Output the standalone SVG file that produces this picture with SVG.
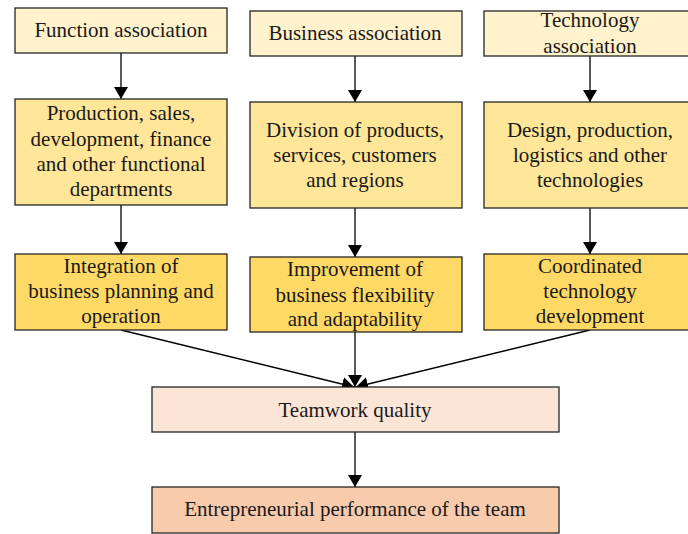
<svg xmlns="http://www.w3.org/2000/svg" width="688" height="534" viewBox="0 0 688 534">
  <style>
    .box { stroke: #262626; stroke-width: 1.3; }
    .lv1 { fill: #FFF2CC; }
    .lv2 { fill: #FFE699; }
    .lv3 { fill: #FFD966; }
    .tq { fill: #FBE5D6; }
    .ep { fill: #F8CBAD; }
    .lbl { font-family: "Liberation Serif", serif; font-size: 21px; fill: #1a1a1a; text-anchor: middle; }
    .edge { stroke: #000; stroke-width: 1.3; fill: none; marker-end: url(#arrow); }
  </style>
  <defs>
    <marker id="arrow" viewBox="0 0 12 14" refX="12" refY="7" markerWidth="12" markerHeight="14" markerUnits="userSpaceOnUse" orient="auto">
      <path d="M0,0 L12,7 L0,14 Z" fill="#000"/>
    </marker>
  </defs>
  <rect width="688" height="534" fill="#fff"/>

  <g id="connectors">
    <line class="edge" x1="121" y1="53" x2="121" y2="99"/>
    <line class="edge" x1="355" y1="56" x2="355" y2="102"/>
    <line class="edge" x1="590" y1="56" x2="590" y2="102"/>
    <line class="edge" x1="121" y1="205" x2="121" y2="254"/>
    <line class="edge" x1="355" y1="208" x2="355" y2="257"/>
    <line class="edge" x1="590" y1="208" x2="590" y2="254"/>
    <line class="edge" x1="121" y1="330" x2="354" y2="387"/>
    <line class="edge" x1="355" y1="332" x2="355" y2="387"/>
    <line class="edge" x1="590" y1="330" x2="356" y2="387"/>
    <line class="edge" x1="355" y1="432" x2="355" y2="487"/>
  </g>

  <g id="function-association">
    <rect class="box lv1" x="15" y="8" width="212" height="45"/>
    <text class="lbl" x="121" y="37">Function association</text>
  </g>
  <g id="business-association">
    <rect class="box lv1" x="250" y="11" width="212" height="45"/>
    <text class="lbl" x="355" y="40">Business association</text>
  </g>
  <g id="technology-association">
    <rect class="box lv1" x="484" y="11" width="212" height="45"/>
    <text class="lbl" x="590" y="27">Technology</text>
    <text class="lbl" x="590" y="53">association</text>
  </g>

  <g id="functional-departments">
    <rect class="box lv2" x="15" y="99" width="212" height="106"/>
    <text class="lbl" x="121" y="120">Production, sales,</text>
    <text class="lbl" x="121" y="146">development, finance</text>
    <text class="lbl" x="121" y="171">and other functional</text>
    <text class="lbl" x="121" y="196">departments</text>
  </g>
  <g id="division">
    <rect class="box lv2" x="250" y="102" width="212" height="106"/>
    <text class="lbl" x="355" y="137">Division of products,</text>
    <text class="lbl" x="355" y="162">services, customers</text>
    <text class="lbl" x="355" y="187">and regions</text>
  </g>
  <g id="technologies">
    <rect class="box lv2" x="484" y="102" width="212" height="106"/>
    <text class="lbl" x="590" y="137">Design, production,</text>
    <text class="lbl" x="590" y="162">logistics and other</text>
    <text class="lbl" x="590" y="187">technologies</text>
  </g>

  <g id="integration">
    <rect class="box lv3" x="15" y="254" width="212" height="76"/>
    <text class="lbl" x="121" y="273">Integration of</text>
    <text class="lbl" x="121" y="298">business planning and</text>
    <text class="lbl" x="121" y="323">operation</text>
  </g>
  <g id="flexibility">
    <rect class="box lv3" x="250" y="257" width="212" height="75"/>
    <text class="lbl" x="355" y="276">Improvement of</text>
    <text class="lbl" x="355" y="302">business flexibility</text>
    <text class="lbl" x="355" y="326">and adaptability</text>
  </g>
  <g id="coordinated">
    <rect class="box lv3" x="484" y="254" width="212" height="76"/>
    <text class="lbl" x="590" y="273">Coordinated</text>
    <text class="lbl" x="590" y="298">technology</text>
    <text class="lbl" x="590" y="323">development</text>
  </g>

  <g id="teamwork-quality">
    <rect class="box tq" x="152" y="387" width="407" height="45"/>
    <text class="lbl" x="355" y="417">Teamwork quality</text>
  </g>
  <g id="entrepreneurial-performance">
    <rect class="box ep" x="152" y="487" width="407" height="46"/>
    <text class="lbl" x="355" y="516">Entrepreneurial performance of the team</text>
  </g>
</svg>
